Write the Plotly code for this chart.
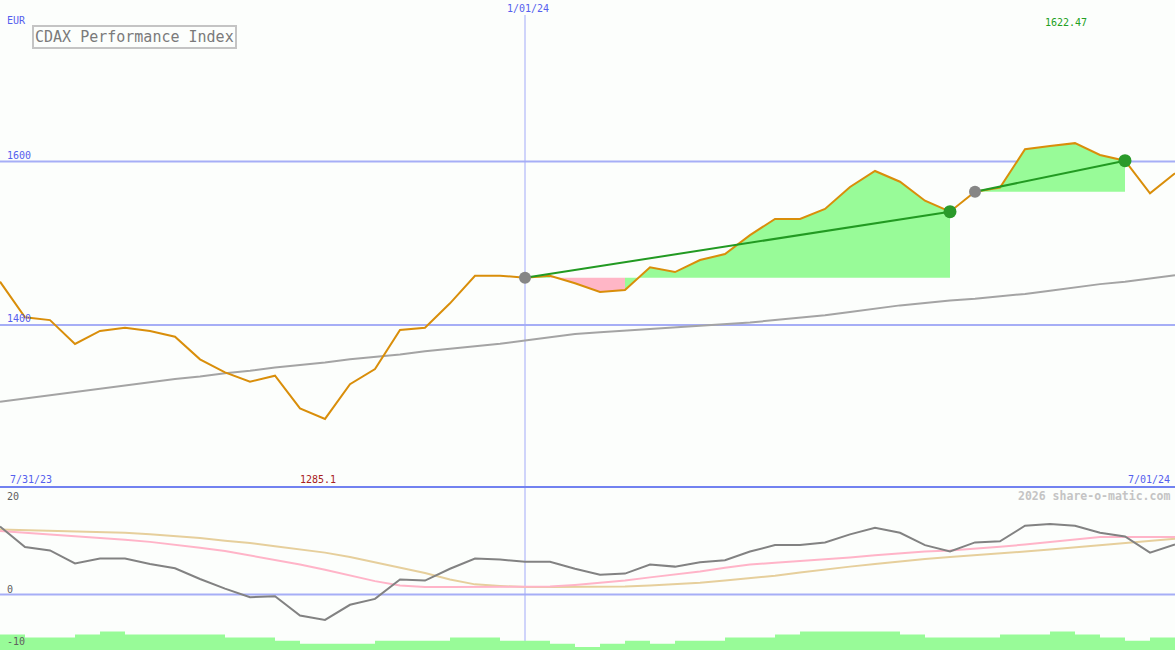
import pandas as pd
import plotly.graph_objects as go

# ---------------- data ----------------
dates = pd.date_range("2023-08-07", periods=48, freq="7D")

price = [1453.0, 1409.4, 1406.0, 1376.8, 1392.7, 1396.7, 1392.7, 1385.7, 1358.0, 1342.0,
         1330.6, 1338.0, 1298.0, 1285.1, 1327.5, 1346.0, 1394.0, 1396.7, 1426.5, 1460.3,
         1460.3, 1457.9, 1460.3, 1451.0, 1440.3, 1442.8, 1470.6, 1464.8, 1479.5, 1486.8,
         1510.0, 1529.7, 1529.7, 1541.9, 1568.8, 1588.4, 1575.3, 1552.0, 1538.6, 1563.0,
         1568.0, 1615.0, 1619.0, 1622.47, 1608.0, 1601.0, 1561.0, 1585.6]

ma_long = [1306, 1310, 1314, 1318, 1322, 1326, 1330, 1334, 1337, 1341,
           1344, 1348, 1351, 1354, 1358, 1361, 1364, 1368, 1371, 1374,
           1377, 1381, 1385, 1389, 1391, 1393, 1395, 1397, 1399, 1401,
           1403, 1406, 1409, 1412, 1416, 1420, 1424, 1427, 1430, 1432,
           1435, 1438, 1442, 1446, 1450, 1453, 1457, 1461]

osc = [12.65, 8.85, 8.2, 5.8, 6.7, 6.7, 5.7, 4.9, 2.9, 1.1,
       -0.5, -0.3, -3.9, -4.7, -1.9, -0.8, 2.8, 2.6, 4.8, 6.7,
       6.5, 6.1, 6.1, 4.8, 3.7, 3.9, 5.6, 5.2, 6.0, 6.4,
       8.0, 9.2, 9.2, 9.7, 11.2, 12.4, 11.5, 9.2, 8.0, 9.7,
       9.9, 12.8, 13.1, 12.8, 11.5, 10.8, 7.8, 9.3]

osc_fast = [11.8, 11.5, 11.2, 10.9, 10.6, 10.2, 9.8, 9.3, 8.7, 8.1,
            7.3, 6.5, 5.6, 4.6, 3.6, 2.5, 1.7, 1.4, 1.4, 1.4,
            1.4, 1.4, 1.5, 1.8, 2.2, 2.6, 3.2, 3.7, 4.3, 5.0,
            5.6, 5.9, 6.2, 6.5, 6.9, 7.3, 7.7, 8.0, 8.2, 8.5,
            8.9, 9.3, 9.8, 10.3, 10.7, 10.7, 10.7, 10.7]

osc_slow = [12.1, 12.0, 11.9, 11.8, 11.7, 11.5, 11.2, 10.9, 10.5, 10.0,
            9.6, 9.0, 8.4, 7.8, 7.0, 6.0, 5.1, 4.0, 2.8, 1.9,
            1.6, 1.4, 1.4, 1.4, 1.4, 1.5, 1.7, 1.9, 2.2, 2.6,
            3.0, 3.5, 4.1, 4.7, 5.2, 5.7, 6.2, 6.6, 7.0, 7.3,
            7.7, 8.0, 8.4, 8.8, 9.3, 9.7, 10.1, 10.4]

volume_level = [5, 4, 4, 5, 6, 5, 5, 5, 5, 4,
                4, 3, 2, 2, 2, 3, 3, 3, 4, 4,
                3, 3, 2, 1, 2, 3, 2, 3, 3, 4,
                4, 5, 6, 6, 6, 6, 5, 4, 4, 4,
                5, 5, 6, 5, 4, 3, 4, 4]

trend_segments = [(21, 38), (39, 45)]
price_ticks = [1600, 1400]
osc_ticks = [20, 0, -10]
marker_date = "2024-01-01"

title_text = "CDAX Performance Index"
currency = "EUR"
left_label = "7/31/23"
right_label = "7/01/24"
mid_label = "1/01/24"
watermark = "2026 share-o-matic.com"

# ---------------- styles ----------------
BG = "#fcfefc"
BLUE_TXT = "#5560ee"
GRID = "#a6aef6"
MONO = "DejaVu Sans Mono"
H = 650.0
split = 1 - 487 / H

fig = go.Figure()

# ---- fills between price and trend base ----
green_x, green_y, pink_x, pink_y = [], [], [], []
for s, e in trend_segments:
    base = price[s]
    i = s
    while i < e:
        up = price[i + 1] >= base
        j = i
        while j < e and (price[j + 1] >= base) == up:
            j += 1
        xs = [dates[i]] + list(dates[i:j + 1]) + [dates[j], dates[i]]
        ys = [base] + price[i:j + 1] + [base, base]
        if up:
            green_x += xs + [None]
            green_y += ys + [None]
        else:
            pink_x += xs + [None]
            pink_y += ys + [None]
        i = j

fig.add_trace(go.Scatter(x=green_x, y=green_y, fill="toself", fillcolor="#98fb98",
                         line=dict(width=0), mode="lines", hoverinfo="skip", showlegend=False))
fig.add_trace(go.Scatter(x=pink_x, y=pink_y, fill="toself", fillcolor="#ffb6c6",
                         line=dict(width=0), mode="lines", hoverinfo="skip", showlegend=False))

# ---- long moving average ----
fig.add_trace(go.Scatter(x=dates, y=ma_long, mode="lines",
                         line=dict(color="#a4a4a4", width=2), showlegend=False))
# ---- price ----
fig.add_trace(go.Scatter(x=dates, y=price, mode="lines",
                         line=dict(color="#d98e0a", width=2), showlegend=False))

# ---- trend lines and dots ----
for s, e in trend_segments:
    fig.add_trace(go.Scatter(x=[dates[s], dates[e]], y=[price[s], price[e]], mode="lines",
                             line=dict(color="#229a22", width=2), showlegend=False))
    fig.add_trace(go.Scatter(x=[dates[s]], y=[price[s]], mode="markers",
                             marker=dict(color="#868686", size=12), showlegend=False))
    fig.add_trace(go.Scatter(x=[dates[e]], y=[price[e]], mode="markers",
                             marker=dict(color="#2a9a2a", size=13), showlegend=False))

# ---- lower panel ----
fig.add_trace(go.Scatter(x=dates, y=volume_level, mode="lines", line_shape="hv",
                         line=dict(width=0, color="#98fb98"), fill="tozeroy",
                         fillcolor="#98fb98", xaxis="x2", yaxis="y3", showlegend=False))
fig.add_trace(go.Scatter(x=dates, y=osc_slow, mode="lines",
                         line=dict(color="#e6cf9c", width=2), xaxis="x2", yaxis="y2", showlegend=False))
fig.add_trace(go.Scatter(x=dates, y=osc_fast, mode="lines",
                         line=dict(color="#ffb4c8", width=2), xaxis="x2", yaxis="y2", showlegend=False))
fig.add_trace(go.Scatter(x=dates, y=osc, mode="lines",
                         line=dict(color="#828282", width=2), xaxis="x2", yaxis="y2", showlegend=False))

# ---- shapes ----
shapes = []
for t in price_ticks:
    shapes.append(dict(type="line", xref="paper", x0=0, x1=1, yref="y", y0=t, y1=t,
                       line=dict(color=GRID, width=2), layer="below"))
shapes.append(dict(type="line", xref="paper", x0=0, x1=1, yref="y2", y0=0, y1=0,
                   line=dict(color=GRID, width=2), layer="below"))
shapes.append(dict(type="line", xref="x", x0=marker_date, x1=marker_date, yref="paper",
                   y0=0, y1=1 - 15 / H, line=dict(color="#a2aaf8", width=1), layer="below"))
shapes.append(dict(type="line", xref="paper", x0=0, x1=1, yref="paper", y0=split, y1=split,
                   line=dict(color="#7282f0", width=2), layer="above"))

# ---- annotations ----
ann = []
def txt(text, x, y, xanchor="left", color=BLUE_TXT, size=10, xref="paper", yref="paper",
        yanchor="middle", **kw):
    ann.append(dict(text=text, x=x, y=y, xref=xref, yref=yref, xanchor=xanchor,
                    yanchor=yanchor, showarrow=False,
                    font=dict(family=MONO, size=size, color=color), **kw))

txt(currency, 5 / 1175, 1 - 20 / H)
for t in price_ticks:
    txt(str(t), 5 / 1175, t, yref="y", yshift=6)
txt(mid_label, marker_date, 1 - 9 / H, xanchor="center", xref="x", xshift=3)
txt(left_label, 8 / 1175, 1 - 479 / H)
txt(right_label, 1172 / 1175, 1 - 479 / H, xanchor="right")
imin = price.index(min(price))
imax = price.index(max(price))
txt(f"{price[imin]:.1f}", dates[imin], 1 - 479 / H, xanchor="center", xref="x",
    color="#a82020", xshift=-7)
txt(f"{price[imax]:.2f}", dates[imax], 1 - 22 / H, xanchor="center", xref="x",
    color="#22a022", xshift=-9)
osc_label_y = {20: 496, 0: 589, -10: 641}
for t in osc_ticks:
    txt(str(t), 5 / 1175, 1 - osc_label_y[t] / H, color="#606060")
ann.append(dict(text="<b>" + watermark + "</b>", x=1172 / 1175, y=1 - 496 / H, xref="paper",
                yref="paper", xanchor="right", yanchor="middle", showarrow=False,
                font=dict(family=MONO, size=11.5, color="#c4c4c4")))
ann.append(dict(text=title_text, x=32 / 1175, y=1 - 25 / H, xref="paper", yref="paper",
                xanchor="left", yanchor="top", showarrow=False, bordercolor="#c4c4c4",
                borderwidth=2, borderpad=1, bgcolor=BG,
                font=dict(family=MONO, size=15, color="#7a7a7a")))

hidden = dict(showticklabels=False, showgrid=False, zeroline=False, showline=False, ticks="")
fig.update_layout(
    width=1175, height=650, margin=dict(l=0, r=0, t=0, b=0),
    paper_bgcolor=BG, plot_bgcolor=BG, showlegend=False,
    xaxis=dict(range=[dates[0], dates[-1]], domain=[0, 1], anchor="y", **hidden),
    yaxis=dict(range=[1201.8, 1797.6], domain=[split, 1], anchor="x", **hidden),
    xaxis2=dict(range=[dates[0], dates[-1]], domain=[0, 1], anchor="y2", matches="x", **hidden),
    yaxis2=dict(range=[-10.3, 20], domain=[0, split], anchor="x2", **hidden),
    yaxis3=dict(range=[0, 52.6], domain=[0, split], overlaying="y2", anchor="x2", **hidden),
    shapes=shapes, annotations=ann, hovermode=False,
)

fig.write_html("out.html", config={"displayModeBar": False})
